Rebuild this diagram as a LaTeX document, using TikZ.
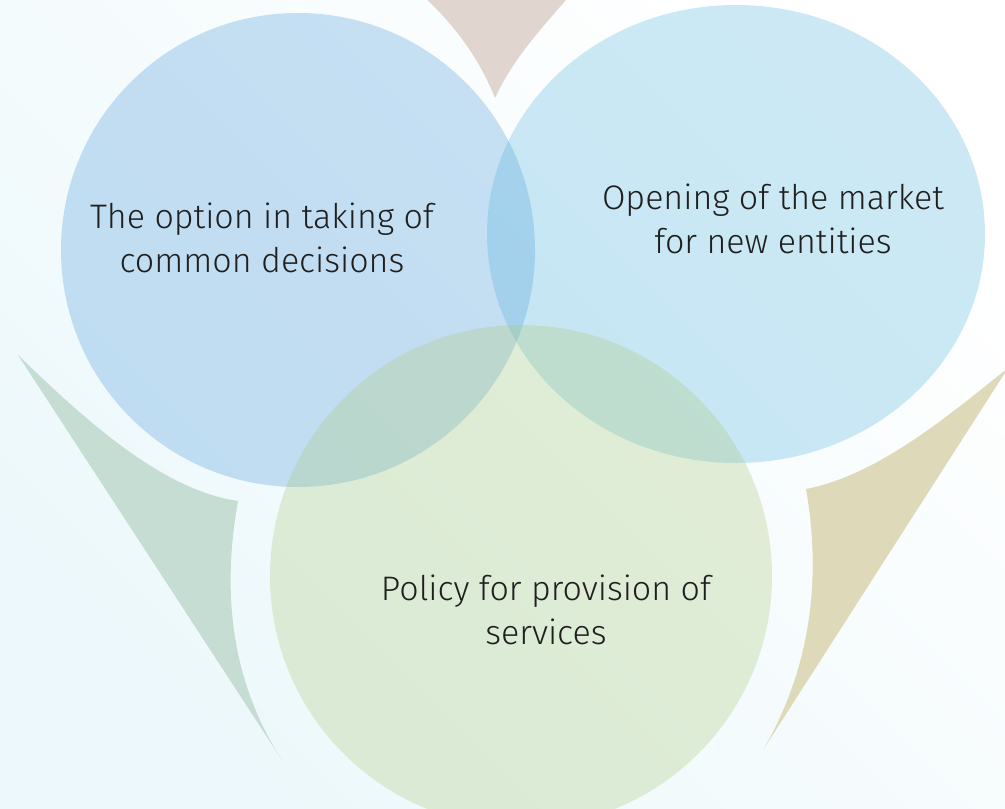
\documentclass[tikz,border=0pt]{standalone}
\usepackage{fontspec}
\setmainfont{Fira Sans Light}
\begin{document}
\begin{tikzpicture}[x=1pt,y=-1pt]
	\def\leftcircle{(298,250) circle [radius=237]}
	\def\rightcircle{(736,234) ellipse [x radius=249, y radius=229]}
	\def\lowercircle{(521,576) circle [radius=251]}
	\definecolor{bg cyan}{RGB}{236,248,251}
	\definecolor{left area}{RGB}{79,154,219}
	\definecolor{right area}{RGB}{88,182,222}
	\definecolor{lower area}{RGB}{172,202,125}
	\definecolor{top petal}{RGB}{224,213,207}
	\definecolor{left petal}{RGB}{197,221,211}
	\definecolor{right petal}{RGB}{222,217,185}
	\tikzset{venn/.style={fill opacity=0.3},
		caption/.style={align=center, text=black!88, font=\fontsize{34}{44}\selectfont}}
	\useasboundingbox (0,0) rectangle (1005,809);
	\clip (0,0) rectangle (1005,809);
	\shade[top color=white, bottom color=bg cyan, shading angle=-45] (0,0) rectangle (1005,809);
	% petals behind the circles
	\fill[top petal] (422,-5) .. controls (455,25) and (480,60) .. (495,98)
		.. controls (515,55) and (545,25) .. (570,-5) -- (570,-20) -- (422,-20) -- cycle;
	\fill[left petal] (18,355) .. controls (80,415) and (160,490) .. (238,501)
		.. controls (222,590) and (230,680) .. (282,760) -- cycle;
	\fill[right petal] (1008,368) .. controls (955,410) and (880,475) .. (806,489)
		.. controls (822,580) and (810,670) .. (763,750) -- cycle;
	\fill[venn, fill=left area] \leftcircle;
	\fill[venn, fill=right area] \rightcircle;
	\fill[venn, fill=lower area] \lowercircle;
	\node[caption] (decisions) at (262,238) {The option in taking of\\common decisions};
	\node[caption] (market) at (773,219) {Opening of the market\\for new entities};
	\node[caption] (services) at (546,610) {Policy for provision of\\services};
\end{tikzpicture}
\end{document}
